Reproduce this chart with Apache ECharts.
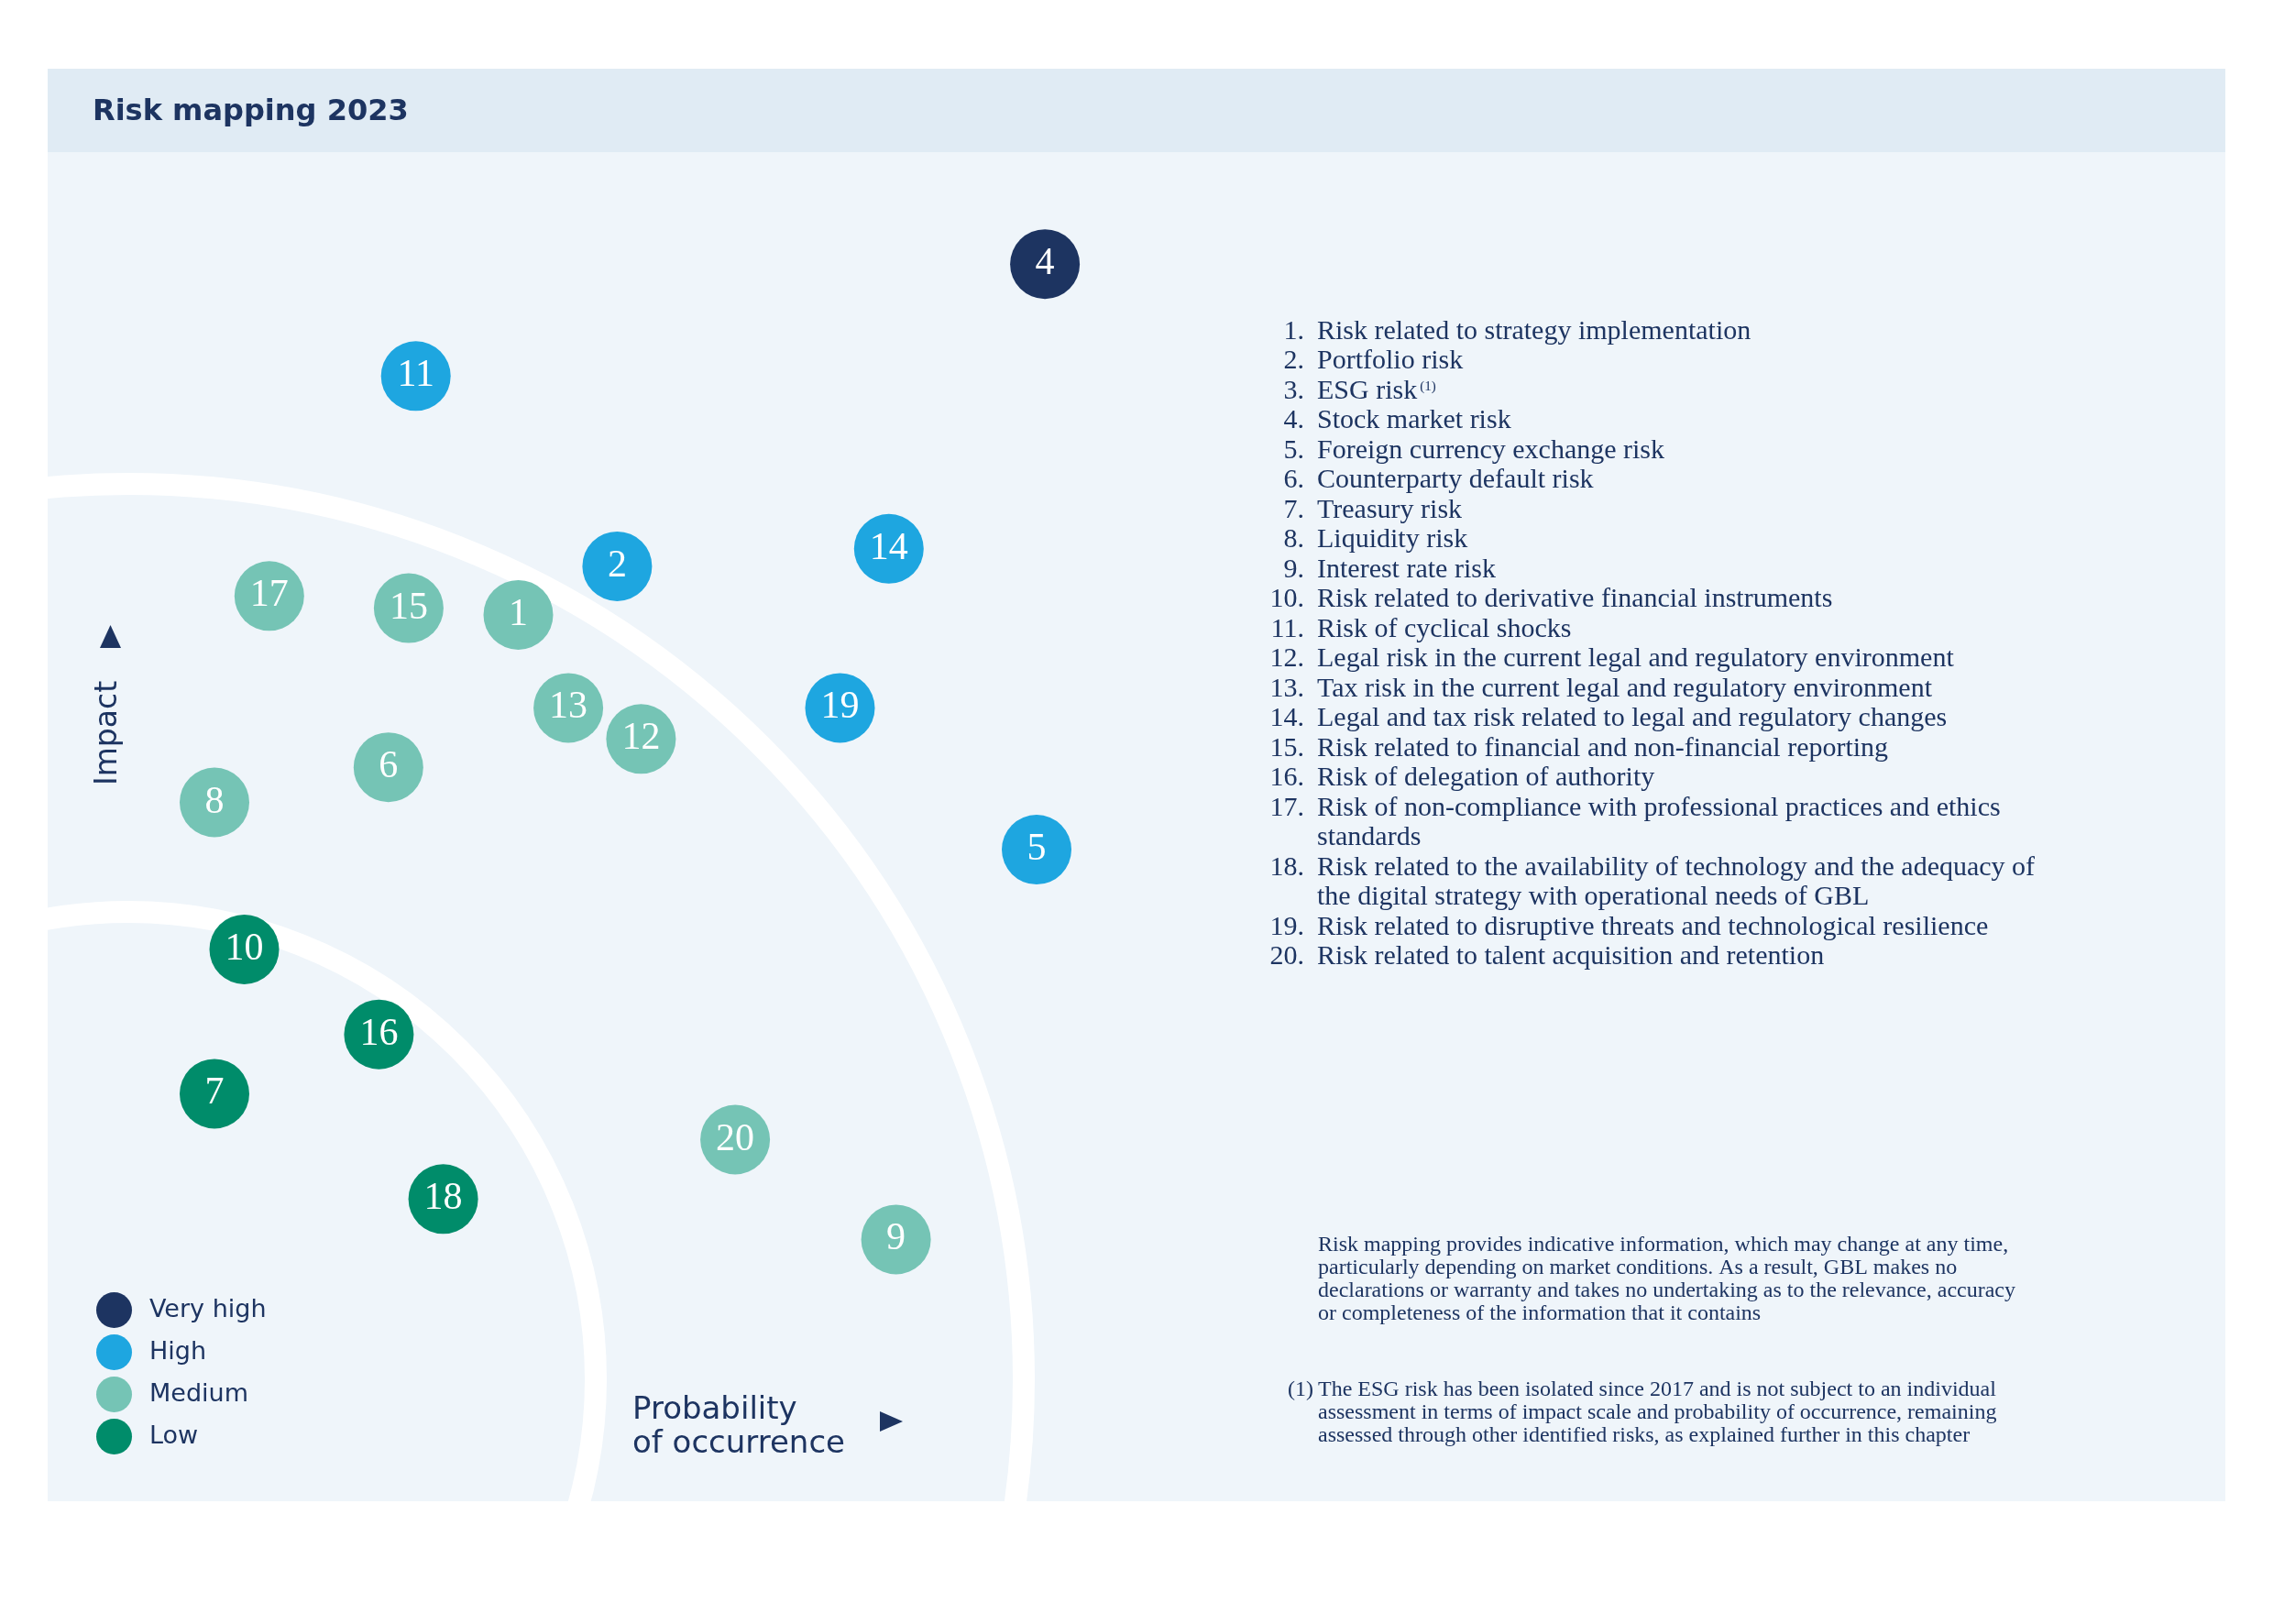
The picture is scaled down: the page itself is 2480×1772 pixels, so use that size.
<!DOCTYPE html>
<html>
<head>
<meta charset="utf-8">
<title>Risk mapping 2023</title>
<script src="https://cdn.jsdelivr.net/npm/echarts@6/dist/echarts.min.js"></script>
<style>
  html, body { margin: 0; padding: 0; background: #ffffff; }
  #main { width: 2480px; height: 1772px; }
</style>
</head>
<body>
<div id="main"></div>
<script>
// risk positions: x = probability of occurrence, y = impact (0-10 scale)
const riskIds     = [1, 2, 4, 5, 6, 7, 8, 9, 10, 11, 12, 13, 14, 15, 16, 17, 18, 19, 20];
const probability = [3.95, 4.78, 8.37, 8.30, 2.86, 1.40, 1.40, 7.12, 1.65, 3.09, 4.98, 4.37, 7.06, 3.03, 2.78, 1.86, 3.32, 6.65, 5.77];
const impact      = [6.57, 6.93, 9.17, 4.83, 5.44, 3.02, 5.18, 1.94, 4.09, 8.34, 5.65, 5.88, 7.06, 6.62, 3.46, 6.71, 2.24, 5.88, 2.68];
const riskLevel   = [2, 1, 0, 1, 2, 3, 2, 2, 3, 1, 2, 2, 1, 2, 3, 2, 3, 1, 2];

const levels      = ['Very high', 'High', 'Medium', 'Low'];
const levelColors = ['#1d3461', '#1ea6e0', '#75c4b5', '#008c6a'];

const riskNames = [
  'Risk related to strategy implementation',
  'Portfolio risk',
  'ESG risk',
  'Stock market risk',
  'Foreign currency exchange risk',
  'Counterparty default risk',
  'Treasury risk',
  'Liquidity risk',
  'Interest rate risk',
  'Risk related to derivative financial instruments',
  'Risk of cyclical shocks',
  'Legal risk in the current legal and regulatory environment',
  'Tax risk in the current legal and regulatory environment',
  'Legal and tax risk related to legal and regulatory changes',
  'Risk related to financial and non-financial reporting',
  'Risk of delegation of authority',
  'Risk of non-compliance with professional practices and ethics\nstandards',
  'Risk related to the availability of technology and the adequacy of\nthe digital strategy with operational needs of GBL',
  'Risk related to disruptive threats and technological resilience',
  'Risk related to talent acquisition and retention'
];

const disclaimer = 'Risk mapping provides indicative information, which may change at any time,\n' +
  'particularly depending on market conditions. As a result, GBL makes no\n' +
  'declarations or warranty and takes no undertaking as to the relevance, accuracy\n' +
  'or completeness of the information that it contains';
const esgNote = 'The ESG risk has been isolated since 2017 and is not subject to an individual\n' +
  'assessment in terms of impact scale and probability of occurrence, remaining\n' +
  'assessed through other identified risks, as explained further in this chapter';

const navy = '#1d3461';
const serif = '"Liberation Serif", serif';
const sans = '"DejaVu Sans", sans-serif';

var myChart = echarts.init(document.getElementById('main'));

// numbered list on the right
var listEls = [];
var line = 0;
riskNames.forEach(function (name, i) {
  var top = 345.6 + 32.5 * line;
  listEls.push({
    type: 'text', x: 1423, y: top,
    style: { text: (i + 1) + '.', fill: navy, fontFamily: serif, fontSize: 30, lineHeight: 32.5,
             align: 'right', verticalAlign: 'top', textAlign: 'right', textVerticalAlign: 'top' }
  });
  var txt = i === 2 ? '{n|ESG risk}{s|(1)}' : name;
  listEls.push({
    type: 'text', x: 1437, y: top,
    style: { text: txt, fill: navy, fontFamily: serif, fontSize: 30, lineHeight: 32.5,
             align: 'left', verticalAlign: 'top', textAlign: 'left', textVerticalAlign: 'top',
             rich: {
               n: { fontFamily: serif, fontSize: 30, lineHeight: 32.5, fill: navy },
               s: { fontFamily: serif, fontSize: 15, fill: navy, verticalAlign: 'top', padding: [4, 0, 0, 3] }
             } }
  });
  line += name.split('\n').length;
});

var option = {
  backgroundColor: '#ffffff',
  animation: false,
  grid: { left: 52, top: 166, width: 1300, height: 1472 },
  xAxis: { type: 'value', min: 0, max: 10, show: false },
  yAxis: { type: 'value', min: 0, max: 10, show: false },
  legend: {
    orient: 'vertical', left: 100, top: 1405,
    itemWidth: 39, itemHeight: 39, itemGap: 7,
    icon: 'circle', selectedMode: false,
    data: levels,
    textStyle: { fontFamily: sans, fontSize: 27, color: navy, padding: [0, 0, 0, 14] }
  },
  graphic: [
    { type: 'rect', z: -10, shape: { x: 52, y: 166, width: 2376, height: 1472 }, style: { fill: '#eff5fa' } },
    { type: 'rect', z: -10, shape: { x: 52, y: 75, width: 2376, height: 91 }, style: { fill: '#e0ebf4' } },
    // white rings
    { type: 'arc', z: -5, shape: { cx: 140, cy: 1505, r: 510, startAngle: -Math.PI, endAngle: Math.PI / 2 },
      style: { stroke: '#ffffff', lineWidth: 24, fill: null } },
    { type: 'arc', z: -5, shape: { cx: 140, cy: 1505, r: 977, startAngle: -Math.PI, endAngle: Math.PI / 2 },
      style: { stroke: '#ffffff', lineWidth: 24, fill: null } },
    { type: 'text', x: 101, y: 123,
      style: { text: 'Risk mapping 2023', fill: navy, fontFamily: sans, fontSize: 32, fontWeight: 'bold',
               align: 'left', verticalAlign: 'middle', textAlign: 'left', textVerticalAlign: 'middle' } },
    // axis names
    { type: 'text', x: 118, y: 800, rotation: Math.PI / 2,
      style: { text: 'Impact', fill: navy, fontFamily: sans, fontSize: 33,
               align: 'center', verticalAlign: 'middle', textAlign: 'center', textVerticalAlign: 'middle' } },
    { type: 'polygon', shape: { points: [[109, 707], [132, 707], [120.5, 682]] }, style: { fill: navy } },
    { type: 'text', x: 690, y: 1521,
      style: { text: 'Probability\nof occurrence', fill: navy, fontFamily: sans, fontSize: 34, lineHeight: 37,
               align: 'left', verticalAlign: 'top', textAlign: 'left', textVerticalAlign: 'top' } },
    { type: 'polygon', shape: { points: [[960, 1540], [960, 1562], [985, 1551]] }, style: { fill: navy } },
    // notes
    { type: 'text', x: 1438, y: 1346.4,
      style: { text: disclaimer, fill: navy, fontFamily: serif, fontSize: 24, lineHeight: 25,
               align: 'left', verticalAlign: 'top', textAlign: 'left', textVerticalAlign: 'top' } },
    { type: 'text', x: 1433, y: 1504.4,
      style: { text: '(1)', fill: navy, fontFamily: serif, fontSize: 24, lineHeight: 25,
               align: 'right', verticalAlign: 'top', textAlign: 'right', textVerticalAlign: 'top' } },
    { type: 'text', x: 1438, y: 1504.4,
      style: { text: esgNote, fill: navy, fontFamily: serif, fontSize: 24, lineHeight: 25,
               align: 'left', verticalAlign: 'top', textAlign: 'left', textVerticalAlign: 'top' } }
  ].concat(listEls),
  series: levels.map(function (lvl, li) {
    return {
      name: lvl,
      type: 'scatter',
      z: 5,
      symbol: 'circle',
      symbolSize: 76,
      itemStyle: { color: levelColors[li], opacity: 1 },
      label: { show: true, position: 'inside', formatter: '{b}', color: '#ffffff',
               fontFamily: serif, fontSize: 42 },
      emphasis: { disabled: true },
      data: riskIds.map(function (id, i) {
        return riskLevel[i] === li ? { name: String(id), value: [probability[i], impact[i]] } : null;
      }).filter(function (d) { return d; })
    };
  })
};

myChart.setOption(option);
</script>
</body>
</html>
